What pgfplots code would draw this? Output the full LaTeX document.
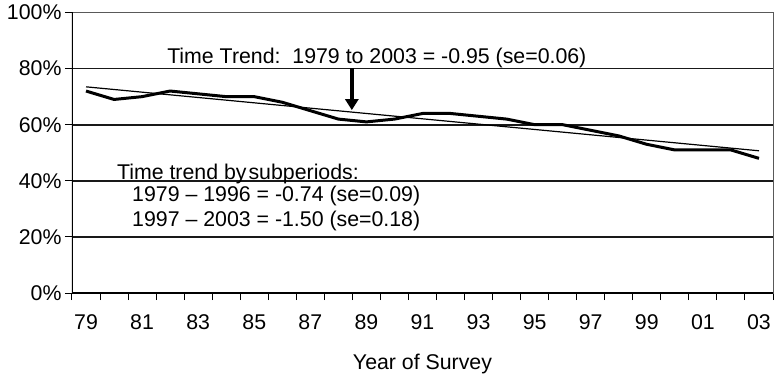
\documentclass[border=0pt]{standalone}
\usepackage{fontspec}
\setmainfont{Liberation Sans}
\usepackage{pgfplots}
\pgfplotsset{compat=1.18}
\usetikzlibrary{arrows.meta}
\begin{document}
\begin{tikzpicture}
\useasboundingbox (-72bp,-84bp) rectangle (702bp,293bp);
\begin{axis}[
  scale only axis, width=701bp, height=280.5bp,
  at={(0,0)}, anchor=south west,
  xmin=78.5, xmax=103.5, ymin=0, ymax=100,
  axis line style={draw=black!65, line width=0.8bp},
  tick pos=left, tick align=outside,
  major tick length=7bp,
  tick style={black, line width=1bp},
  /pgf/number format/assume math mode=true,
  ytick={0,20,40,60,80,100},
  yticklabels={0\%,20\%,40\%,60\%,80\%,100\%},
  xtick={78.5,79.5,...,103.5}, xticklabels={},
  extra x ticks={79,81,83,85,87,89,91,93,95,97,99,101,103},
  extra x tick labels={79,81,83,85,87,89,91,93,95,97,99,01,03},
  extra x tick style={major tick length=0pt},
  xticklabel style={yshift=-18bp},
  extra y ticks={20,40,60,80}, extra y tick labels={},
  extra y tick style={ymajorgrids=true, major grid style={black!90, line width=1.7bp}, major tick length=0pt},
  tick label style={font=\fontsize{21.4}{25}\selectfont},
  xlabel={Year of Survey},
  xlabel style={font=\fontsize{21.4}{25}\selectfont, at={(axis description cs:0.5,0)}, anchor=base, yshift=-76bp},
]
\draw[black, line width=1.4bp] (rel axis cs:0,1) -- (rel axis cs:0,0) -- (rel axis cs:1,0);
\addplot[black, line width=1.2bp] coordinates {(79,73.5) (103,50.7)};
\addplot[black, line width=3bp] coordinates {
(79,72) (80,69) (81,70) (82,72) (83,71) (84,70) (85,70) (86,68) (87,65) (88,62)
(89,61) (90,62) (91,64) (92,64) (93,63) (94,62) (95,60) (96,60) (97,58) (98,56)
(99,53) (100,51) (101,51) (102,51) (103,48)};
\draw[line width=3.5bp, -{Triangle[width=13bp,length=11bp]}] (axis cs:88.48,80.2) -- (axis cs:88.48,65.2);
\node[anchor=base west, inner sep=0pt, font=\fontsize{21.4}{25}\selectfont] at (axis cs:81.89,81.8) {Time Trend:\ \ 1979 to 2003 = -0.95 (se=0.06)};
\node[anchor=base west, inner sep=0pt, font=\fontsize{21.4}{25}\selectfont] at (axis cs:80.10,40.3) {Time trend by\hspace{2bp}subperiods:};
\node[anchor=base west, inner sep=0pt, font=\fontsize{21.4}{25}\selectfont] at (axis cs:80.64,32.5) {1979 – 1996 = -0.74 (se=0.09)};
\node[anchor=base west, inner sep=0pt, font=\fontsize{21.4}{25}\selectfont] at (axis cs:80.64,23.6) {1997 – 2003 = -1.50 (se=0.18)};
\end{axis}
\end{tikzpicture}
\end{document}
